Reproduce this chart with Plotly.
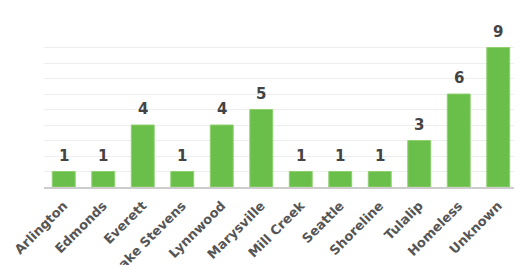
import plotly.graph_objects as go

categories = ["Arlington", "Edmonds", "Everett", "Lake Stevens", "Lynnwood", "Marysville",
              "Mill Creek", "Seattle", "Shoreline", "Tulalip", "Homeless", "Unknown"]
values = [1, 1, 4, 1, 4, 5, 1, 1, 1, 3, 6, 9]

fig = go.Figure()
fig.add_trace(go.Bar(
    x=categories, y=values,
    marker=dict(color="#6abf4b", line=dict(color="#8fd070", width=1)),
    hoverinfo="skip",
))
for c, v in zip(categories, values):
    fig.add_annotation(x=c, y=v, text=str(v), showarrow=False, yanchor="bottom", yshift=5,
                       font=dict(family="DejaVu Sans", size=15, color="#444444", weight="bold"))

fig.update_layout(
    width=514, height=257,
    margin=dict(l=36, r=4, t=24, b=78),
    paper_bgcolor="white", plot_bgcolor="white",
    bargap=0.42,
    showlegend=False,
    xaxis=dict(
        automargin=False,
        tickangle=-45,
        tickfont=dict(family="DejaVu Sans", size=13, color="#555555", weight="bold"),
        showline=True, linecolor="#cccccc", linewidth=2,
        ticks="", showgrid=False, ticklabelstandoff=4,
    ),
    yaxis=dict(
        automargin=False,
        range=[0, 10], dtick=1, showticklabels=False,
        gridcolor="#eeeeee", gridwidth=1, zeroline=False,
    ),
)
fig.write_html("out.html")
